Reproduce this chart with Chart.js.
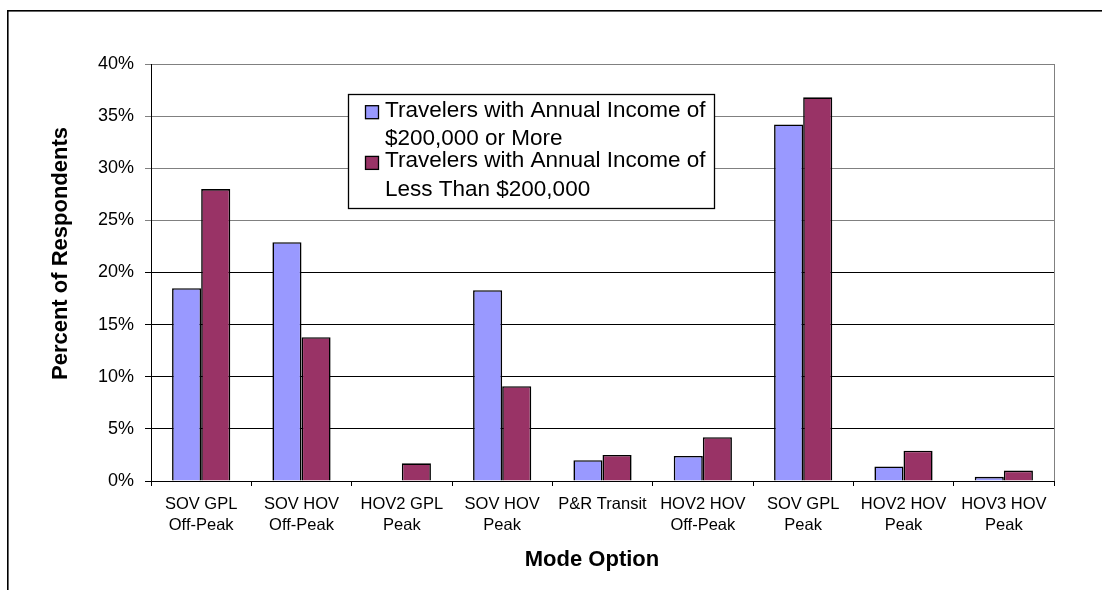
<!DOCTYPE html>
<html>
<head>
<meta charset="utf-8">
<title>Mode Option by Income</title>
<script src="https://cdn.jsdelivr.net/npm/chart.js@4/dist/chart.umd.min.js"></script>
<style>
  html, body { margin: 0; padding: 0; background: #ffffff; }
  canvas { display: block; }
</style>
</head>
<body>
<canvas id="chart" width="1102" height="590"></canvas>
<script>
// Mode options (x categories), two text lines each
const modeOptions = [
  ['SOV GPL', 'Off-Peak'],
  ['SOV HOV', 'Off-Peak'],
  ['HOV2 GPL', 'Peak'],
  ['SOV HOV', 'Peak'],
  ['P&R Transit'],
  ['HOV2 HOV', 'Off-Peak'],
  ['SOV GPL', 'Peak'],
  ['HOV2 HOV', 'Peak'],
  ['HOV3 HOV', 'Peak']
];

// Share of respondents (%) choosing each option
const incomeHigh = [18.5, 22.9, 0, 18.3, 2.0, 2.4, 34.2, 1.4, 0.4];
const incomeLow  = [28.0, 13.8, 1.7, 9.1, 2.5, 4.2, 36.8, 2.9, 1.0];

const seriesNames = [
  'Travelers with Annual Income of $200,000 or More',
  'Travelers with Annual Income of Less Than $200,000'
];

const yTickValues = [0, 5, 10, 15, 20, 25, 30, 35, 40];
const yAxisTitle = 'Percent of Respondents';
const xAxisTitle = 'Mode Option';

const FONT = '"Liberation Sans", Arial, Helvetica, sans-serif';
Chart.defaults.font.family = FONT;
Chart.defaults.color = '#000000';

// Outer frame, right plot border, boxed legend and axis titles
const decorations = {
  id: 'decorations',
  afterDraw(chart) {
    const ctx = chart.ctx;
    const area = chart.chartArea;
    ctx.save();

    // right edge of the plot area
    ctx.strokeStyle = '#808080';
    ctx.lineWidth = 1;
    ctx.beginPath();
    ctx.moveTo(area.right + 0.5, area.top);
    ctx.lineTo(area.right + 0.5, area.bottom);
    ctx.stroke();

    // chart frame
    ctx.fillStyle = '#000000';
    ctx.fillRect(7, 10, chart.width - 7, 1.6);
    ctx.fillRect(7, 10, 1.6, chart.height - 10);

    // legend
    const lg = { left: 348, top: 94, right: 714, bottom: 208 };
    ctx.fillStyle = '#ffffff';
    ctx.fillRect(lg.left, lg.top, lg.right - lg.left, lg.bottom - lg.top);
    ctx.strokeStyle = '#000000';
    ctx.lineWidth = 1.3;
    ctx.strokeRect(lg.left + 0.5, lg.top + 0.5, lg.right - lg.left, lg.bottom - lg.top);

    ctx.font = '22.5px ' + FONT;
    ctx.textAlign = 'left';
    ctx.textBaseline = 'alphabetic';
    const wrap = (text, maxW) => {
      const words = text.split(' ');
      const lines = [];
      let cur = '';
      words.forEach(w => {
        const t = cur ? cur + ' ' + w : w;
        if (cur && ctx.measureText(t).width > maxW) { lines.push(cur); cur = w; }
        else cur = t;
      });
      if (cur) lines.push(cur);
      return lines;
    };
    let baseline = 116.7;
    chart.data.datasets.forEach(ds => {
      const lines = wrap(ds.label, 325);
      ctx.fillStyle = ds.backgroundColor;
      ctx.fillRect(365.5, baseline - 11, 13, 13);
      ctx.strokeStyle = '#000000';
      ctx.lineWidth = 1.3;
      ctx.strokeRect(365.5, baseline - 11, 13, 13);
      ctx.fillStyle = '#000000';
      lines.forEach((ln, i) => ctx.fillText(ln, 385, baseline + i * 28.4));
      baseline += (lines.length - 1) * 28.4 + 22.3;
    });

    // axis titles
    ctx.font = 'bold 22px ' + FONT;
    ctx.fillStyle = '#000000';
    ctx.textAlign = 'center';
    ctx.textBaseline = 'middle';
    ctx.fillText(xAxisTitle, 592, 559.5);
    ctx.translate(61, 253.5);
    ctx.rotate(-Math.PI / 2);
    ctx.fillText(yAxisTitle, 0, 0);

    ctx.restore();
  }
};

new Chart(document.getElementById('chart'), {
  type: 'bar',
  data: {
    labels: modeOptions,
    datasets: [
      {
        label: seriesNames[0],
        data: incomeHigh,
        backgroundColor: '#9999FF',
        borderColor: '#000000',
        borderWidth: 1.6
      },
      {
        label: seriesNames[1],
        data: incomeLow,
        backgroundColor: '#993366',
        borderColor: '#000000',
        borderWidth: 1.6
      }
    ]
  },
  options: {
    responsive: false,
    animation: false,
    layout: { padding: { left: 0, top: 64, right: 48, bottom: 0 } },
    datasets: {
      bar: { barPercentage: 1.0, categoryPercentage: 0.58 }
    },
    plugins: {
      legend: { display: false },
      tooltip: { enabled: false }
    },
    scales: {
      x: {
        offset: true,
        grid: {
          offset: true,
          drawOnChartArea: false,
          drawTicks: true,
          tickLength: 5,
          color: '#000000'
        },
        border: { color: '#000000', width: 1 },
        ticks: {
          font: { size: 16.5, lineHeight: 1.28 },
          color: '#000000',
          padding: 8,
          maxRotation: 0,
          autoSkip: false
        },
        afterFit(scale) { scale.height = 109; }
      },
      y: {
        min: 0,
        max: 40,
        afterBuildTicks(scale) {
          scale.ticks = yTickValues.map(v => ({ value: v }));
        },
        grid: {
          color: c => (c.tick && c.tick.value >= 25 ? '#808080' : '#000000'),
          lineWidth: 1,
          drawTicks: true,
          tickLength: 6
        },
        border: { color: '#000000', width: 1 },
        ticks: {
          font: { size: 18 },
          color: '#000000',
          padding: 11,
          callback: v => v + '%'
        },
        afterFit(scale) { scale.width = 151; }
      }
    }
  },
  plugins: [decorations]
});
</script>
</body>
</html>
